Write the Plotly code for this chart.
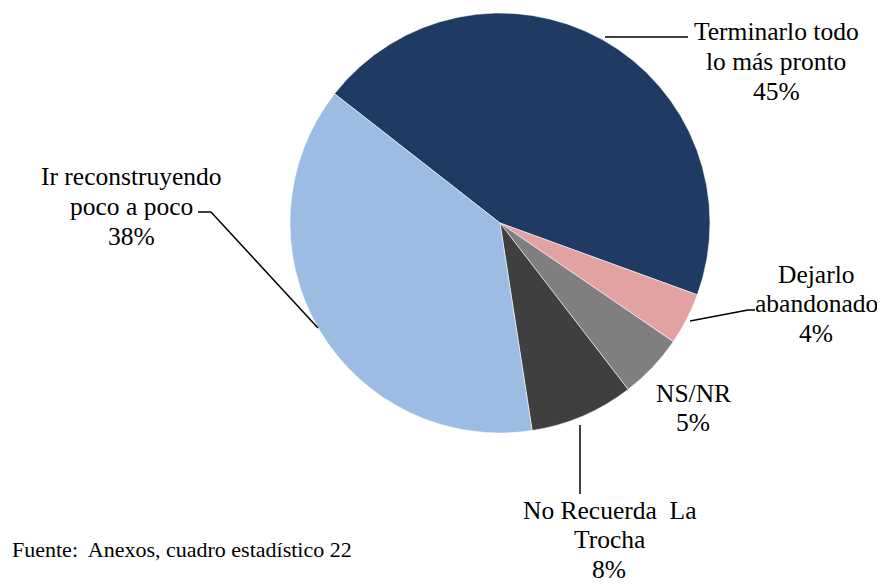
import plotly.graph_objects as go

# data
labels = ["Terminarlo todo<br>lo más pronto", "Dejarlo<br>abandonado", "NS/NR",
          "No Recuerda&nbsp; La<br>Trocha", "Ir reconstruyendo<br>poco a poco"]
values = [45, 4, 5, 8, 38]
colors = ["#1F3B64", "#E3A2A2", "#7F7F7F", "#3F3F3F", "#9DBCE4"]
source_note = "Fuente:&nbsp; Anexos, cuadro estadístico 22"

# page body has an 8px margin, so the figure is a bit smaller and offset
PAD = 8
W, H = 885 - PAD, 585 - PAD
LINE = 29.5


def px(x, y):
    """pixel position in the window -> paper coords"""
    return (x - PAD) / W, 1 - (y - PAD) / H


# label centre x / first line y, and leader lines, in window pixels
label_pos = [(776, 32), (816, 274), (693, 393), (609, 510), (131, 177)]
leaders = [
    [(605, 37), (688, 37)],
    [(690, 321), (748, 310), (755, 310)],
    [],
    [(580, 425), (580, 494)],
    [(318, 328), (211, 212), (198, 212)],
]

x0, y1 = px(289, 13)
x1, y0 = px(711, 433)
fig = go.Figure(go.Pie(
    labels=labels,
    values=values,
    sort=False,
    direction='clockwise',
    rotation=-52,
    textinfo='none',
    hoverinfo='skip',
    showlegend=False,
    marker=dict(colors=colors, line=dict(color='rgba(255,255,255,0.55)', width=1)),
    domain=dict(x=[x0, x1], y=[y0, y1]),
))

serif = "Liberation Serif"
font = dict(family=serif, size=25.5, color="black")

for lab, v, (lx, ly) in zip(labels, values, label_pos):
    lines = lab.split("<br>") + [f"{v}%"]
    for i, t in enumerate(lines):
        x, y = px(lx, ly + i * LINE)
        fig.add_annotation(x=x, y=y, xref='paper', yref='paper', showarrow=False,
                           text=t, xanchor='center', yanchor='middle', font=font)

for pts in leaders:
    for (xa, ya), (xb, yb) in zip(pts[:-1], pts[1:]):
        a, b = px(xa, ya)
        c, d = px(xb, yb)
        fig.add_shape(type='line', xref='paper', yref='paper', x0=a, y0=b, x1=c, y1=d,
                      line=dict(color='black', width=1.5))

x, y = px(10, 549)
fig.add_annotation(x=x, y=y, xref='paper', yref='paper', showarrow=False,
                   text=source_note, xanchor='left', yanchor='middle',
                   font=dict(family=serif, size=22, color='black'))

fig.update_layout(width=W, height=H, margin=dict(l=0, r=0, t=0, b=0),
                  paper_bgcolor='white', plot_bgcolor='white')

fig.write_html("out.html")
